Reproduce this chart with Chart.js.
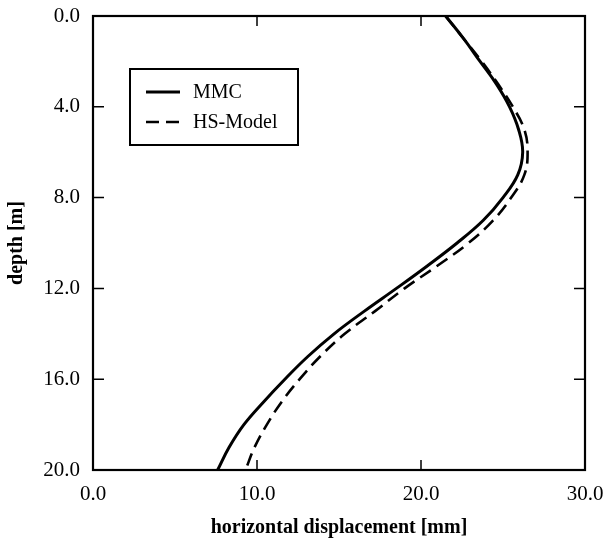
<!DOCTYPE html>
<html>
<head>
<meta charset="utf-8">
<script src="https://cdn.jsdelivr.net/npm/chart.js@4"></script>
<style>
  html, body { margin: 0; padding: 0; background: #fff; }
  #wrap { width: 606px; height: 544px; }
</style>
</head>
<body>
<div id="wrap"><canvas id="dispChart" width="606" height="544"></canvas></div>
<script>
const depths = [0, 1, 2, 3, 4, 5, 6, 7, 8, 9, 10, 11, 12, 13, 14, 15, 16, 17, 18, 19, 20];
const mmcDisp = [21.5, 22.6, 23.6, 24.6, 25.4, 25.95, 26.2, 25.9, 25.0, 23.8, 22.2, 20.4, 18.5, 16.55, 14.7, 13.1, 11.7, 10.4, 9.2, 8.3, 7.6];
const hsDisp = [21.5, 22.6, 23.7, 24.7, 25.6, 26.3, 26.5, 26.3, 25.5, 24.4, 22.9, 21.0, 19.0, 17.2, 15.35, 13.85, 12.6, 11.5, 10.6, 9.85, 9.3];
const xTicks = [0, 10, 20, 30];
const yTicks = [0, 4, 8, 12, 16, 20];
const seriesNames = ['MMC', 'HS-Model'];

const serif = "'Liberation Serif', 'Times New Roman', serif";

// frame + inward tick marks
const framePlugin = {
    id: 'frame',
    afterDatasetsDraw(chart) {
        const { ctx, chartArea: a, scales } = chart;
        ctx.save();
        ctx.strokeStyle = '#000';
        ctx.lineWidth = 1.5;
        ctx.beginPath();
        xTicks.slice(1, -1).forEach(v => {
            const px = scales.x.getPixelForValue(v);
            ctx.moveTo(px, a.bottom); ctx.lineTo(px, a.bottom - 10);
            ctx.moveTo(px, a.top); ctx.lineTo(px, a.top + 10);
        });
        yTicks.slice(1, -1).forEach(v => {
            const py = scales.y.getPixelForValue(v);
            ctx.moveTo(a.left, py); ctx.lineTo(a.left + 11, py);
            ctx.moveTo(a.right, py); ctx.lineTo(a.right - 11, py);
        });
        ctx.stroke();
        ctx.lineWidth = 2.2;
        ctx.strokeRect(a.left, a.top, a.right - a.left, a.bottom - a.top);
        ctx.restore();
    }
};

// boxed legend inside plot
const legendBox = {
    id: 'legendBox',
    afterDatasetsDraw(chart) {
        const { ctx, chartArea: a } = chart;
        const x = a.left + 37, y = a.top + 53, w = 168, h = 76;
        ctx.save();
        ctx.fillStyle = '#fff';
        ctx.fillRect(x, y, w, h);
        ctx.strokeStyle = '#000';
        ctx.lineWidth = 2;
        ctx.strokeRect(x, y, w, h);
        chart.data.datasets.forEach((ds, i) => {
            const ly = y + 23 + i * 30;
            ctx.beginPath();
            ctx.lineWidth = ds.borderWidth;
            ctx.setLineDash(ds.borderDash ? [13, 7] : []);
            ctx.moveTo(x + 16, ly);
            ctx.lineTo(x + 50, ly);
            ctx.stroke();
            ctx.setLineDash([]);
            ctx.fillStyle = '#000';
            ctx.font = '20px ' + serif;
            ctx.textBaseline = 'middle';
            ctx.fillText(ds.label, x + 63, ly + 1);
        });
        ctx.restore();
    }
};

const ctx = document.getElementById('dispChart').getContext('2d');
const dispChart = new Chart(ctx, {
    type: 'line',
    data: {
        datasets: [{
            label: seriesNames[0],
            data: depths.map((d, i) => ({ x: mmcDisp[i], y: d })),
            borderColor: '#000',
            borderWidth: 3,
            pointRadius: 0,
            tension: 0.4
        }, {
            label: seriesNames[1],
            data: depths.map((d, i) => ({ x: hsDisp[i], y: d })),
            borderColor: '#000',
            borderWidth: 2.6,
            borderDash: [13, 7],
            pointRadius: 0,
            tension: 0.4
        }]
    },
    options: {
        responsive: false,
        animation: false,
        layout: { autoPadding: false, padding: { top: 16, right: 21, left: 0, bottom: 0 } },
        plugins: { legend: { display: false }, tooltip: { enabled: false } },
        scales: {
            x: {
                type: 'linear',
                min: 0, max: 30,
                afterFit: s => { s.height = 74; s.paddingLeft = 0; s.paddingRight = 0; },
                afterBuildTicks: s => { s.ticks = xTicks.map(v => ({ value: v })); },
                grid: { display: false, drawTicks: false },
                border: { display: false },
                ticks: {
                    color: '#000',
                    padding: 12,
                    font: { family: serif, size: 21 },
                    callback: v => v.toFixed(1)
                },
                title: {
                    display: true,
                    text: 'horizontal displacement [mm]',
                    color: '#000',
                    font: { family: serif, size: 20, weight: 'bold' },
                    padding: { top: 0, bottom: 4 }
                }
            },
            y: {
                type: 'linear',
                reverse: true,
                min: 0, max: 20,
                afterFit: s => { s.width = 93; s.paddingTop = 0; s.paddingBottom = 0; },
                afterBuildTicks: s => { s.ticks = yTicks.map(v => ({ value: v })); },
                grid: { display: false, drawTicks: false },
                border: { display: false },
                ticks: {
                    color: '#000',
                    padding: 13,
                    font: { family: serif, size: 21 },
                    callback: v => v.toFixed(1)
                },
                title: {
                    display: true,
                    text: 'depth [m]',
                    color: '#000',
                    font: { family: serif, size: 20, weight: 'bold' },
                    padding: { top: 5, bottom: 0 }
                }
            }
        }
    },
    plugins: [framePlugin, legendBox]
});
</script>
</body>
</html>
